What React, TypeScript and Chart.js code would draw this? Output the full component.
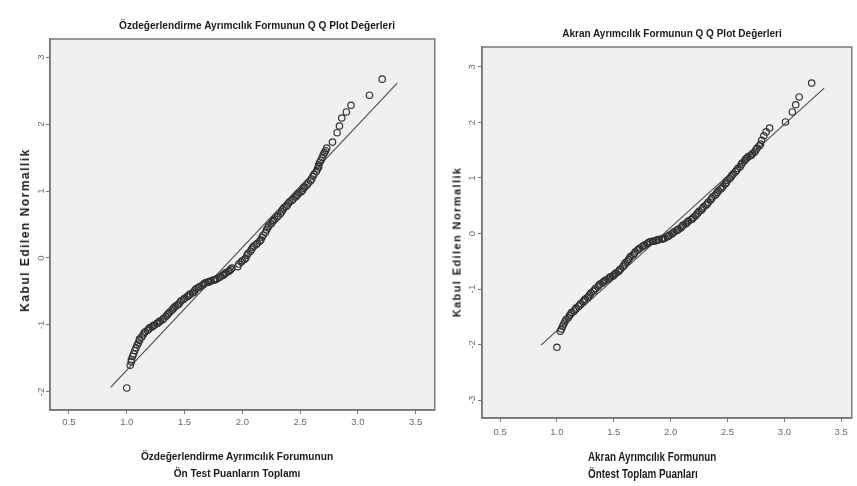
import React, { useEffect, useRef } from 'react';
import { Chart, registerables } from 'chart.js';
Chart.register(...registerables);

// ---------- data ----------
const leftObservedX = [
  1.00, 1.03, 1.04, 1.04, 1.05, 1.06, 1.07, 1.08, 1.09, 1.10,
  1.11, 1.11, 1.13, 1.14, 1.15, 1.16, 1.18, 1.19, 1.20, 1.22,
  1.23, 1.24, 1.26, 1.27, 1.28, 1.29, 1.31, 1.32, 1.34, 1.35,
  1.36, 1.37, 1.39, 1.40, 1.41, 1.42, 1.44, 1.45, 1.46, 1.47,
  1.49, 1.50, 1.52, 1.53, 1.54, 1.55, 1.57, 1.58, 1.59, 1.60,
  1.62, 1.63, 1.65, 1.66, 1.67, 1.68, 1.70, 1.71, 1.72, 1.73,
  1.75, 1.76, 1.77, 1.78, 1.80, 1.81, 1.83, 1.84, 1.85, 1.86,
  1.88, 1.89, 1.90, 1.91, 1.96, 1.97, 1.99, 2.00, 2.02, 2.03,
  2.04, 2.05, 2.07, 2.08, 2.09, 2.10, 2.12, 2.13, 2.15, 2.16,
  2.17, 2.18, 2.20, 2.21, 2.22, 2.23, 2.25, 2.26, 2.27, 2.28,
  2.30, 2.31, 2.33, 2.34, 2.35, 2.36, 2.38, 2.39, 2.40, 2.41,
  2.43, 2.44, 2.46, 2.47, 2.48, 2.49, 2.51, 2.52, 2.53, 2.54,
  2.56, 2.57, 2.59, 2.60, 2.61, 2.62, 2.64, 2.65, 2.66, 2.66,
  2.67, 2.68, 2.69, 2.70, 2.71, 2.72, 2.73, 2.78, 2.82, 2.84,
  2.86, 2.90, 2.94, 3.10, 3.21,
];
const leftExpectedNormal = [
  -1.94, -1.60, -1.55, -1.52, -1.47, -1.43, -1.38, -1.34, -1.30, -1.27,
  -1.23, -1.21, -1.18, -1.15, -1.12, -1.10, -1.08, -1.06, -1.04, -1.03,
  -1.01, -1.00, -0.98, -0.97, -0.95, -0.94, -0.92, -0.90, -0.87, -0.85,
  -0.83, -0.81, -0.78, -0.76, -0.74, -0.72, -0.70, -0.69, -0.66, -0.64,
  -0.62, -0.60, -0.58, -0.57, -0.55, -0.54, -0.52, -0.51, -0.48, -0.46,
  -0.44, -0.43, -0.41, -0.40, -0.38, -0.37, -0.36, -0.36, -0.35, -0.34,
  -0.33, -0.33, -0.32, -0.31, -0.29, -0.28, -0.26, -0.25, -0.23, -0.22,
  -0.20, -0.19, -0.17, -0.15, -0.13, -0.09, -0.06, -0.04, -0.02, 0.00,
  0.04, 0.07, 0.10, 0.13, 0.16, 0.18, 0.20, 0.22, 0.25, 0.27,
  0.31, 0.34, 0.38, 0.42, 0.45, 0.48, 0.51, 0.54, 0.56, 0.58,
  0.61, 0.63, 0.66, 0.69, 0.72, 0.75, 0.77, 0.79, 0.82, 0.84,
  0.86, 0.88, 0.91, 0.93, 0.95, 0.97, 0.99, 1.01, 1.04, 1.06,
  1.09, 1.12, 1.15, 1.18, 1.22, 1.25, 1.29, 1.33, 1.36, 1.39,
  1.43, 1.46, 1.50, 1.54, 1.57, 1.60, 1.64, 1.73, 1.87, 1.97,
  2.09, 2.18, 2.28, 2.43, 2.67,
];
const leftLineX = [0.86, 3.34];
const leftLineY = [-1.93, 2.61];

const rightObservedX = [
  1.00, 1.03, 1.04, 1.05, 1.06, 1.07, 1.08, 1.10, 1.11, 1.12,
  1.13, 1.15, 1.16, 1.17, 1.19, 1.20, 1.21, 1.23, 1.24, 1.25,
  1.27, 1.28, 1.29, 1.30, 1.32, 1.33, 1.34, 1.36, 1.37, 1.38,
  1.40, 1.41, 1.42, 1.43, 1.45, 1.46, 1.47, 1.49, 1.50, 1.51,
  1.52, 1.54, 1.55, 1.56, 1.58, 1.59, 1.60, 1.62, 1.63, 1.64,
  1.65, 1.67, 1.68, 1.69, 1.71, 1.72, 1.73, 1.75, 1.76, 1.77,
  1.79, 1.80, 1.81, 1.82, 1.84, 1.85, 1.87, 1.88, 1.89, 1.90,
  1.92, 1.93, 1.94, 1.95, 1.97, 1.98, 1.99, 2.01, 2.02, 2.03,
  2.05, 2.06, 2.07, 2.09, 2.10, 2.11, 2.13, 2.14, 2.15, 2.16,
  2.18, 2.19, 2.20, 2.22, 2.23, 2.24, 2.25, 2.27, 2.28, 2.29,
  2.31, 2.32, 2.33, 2.35, 2.36, 2.37, 2.39, 2.40, 2.41, 2.42,
  2.44, 2.45, 2.46, 2.48, 2.49, 2.50, 2.52, 2.53, 2.54, 2.55,
  2.57, 2.58, 2.59, 2.61, 2.62, 2.63, 2.65, 2.66, 2.67, 2.68,
  2.70, 2.71, 2.72, 2.74, 2.75, 2.76, 2.78, 2.79, 2.80, 2.82,
  2.84, 2.87, 3.01, 3.07, 3.10, 3.13, 3.24,
];
const rightExpectedNormal = [
  -2.05, -1.76, -1.72, -1.67, -1.63, -1.59, -1.55, -1.52, -1.48, -1.45,
  -1.42, -1.40, -1.37, -1.34, -1.31, -1.29, -1.26, -1.23, -1.20, -1.18,
  -1.15, -1.13, -1.10, -1.07, -1.04, -1.02, -0.99, -0.96, -0.93, -0.91,
  -0.89, -0.87, -0.85, -0.84, -0.82, -0.80, -0.78, -0.77, -0.75, -0.73,
  -0.71, -0.69, -0.66, -0.64, -0.60, -0.57, -0.53, -0.50, -0.47, -0.44,
  -0.41, -0.39, -0.36, -0.33, -0.30, -0.28, -0.26, -0.24, -0.22, -0.21,
  -0.19, -0.17, -0.16, -0.15, -0.14, -0.14, -0.13, -0.12, -0.11, -0.11,
  -0.10, -0.10, -0.09, -0.08, -0.06, -0.05, -0.03, -0.01, 0.01, 0.03,
  0.05, 0.06, 0.08, 0.10, 0.13, 0.15, 0.17, 0.19, 0.21, 0.23,
  0.25, 0.26, 0.29, 0.32, 0.35, 0.37, 0.40, 0.42, 0.45, 0.48,
  0.51, 0.53, 0.56, 0.60, 0.63, 0.66, 0.69, 0.71, 0.74, 0.77,
  0.80, 0.82, 0.85, 0.89, 0.92, 0.96, 0.99, 1.02, 1.05, 1.07,
  1.11, 1.14, 1.17, 1.20, 1.24, 1.27, 1.31, 1.34, 1.36, 1.38,
  1.40, 1.41, 1.44, 1.47, 1.51, 1.54, 1.58, 1.61, 1.68, 1.76,
  1.83, 1.90, 2.01, 2.19, 2.32, 2.46, 2.71,
];
const rightLineX = [0.86, 3.35];
const rightLineY = [-2.01, 2.62];

const xTickValues = [0.5, 1.0, 1.5, 2.0, 2.5, 3.0, 3.5];
const leftYTickValues = [-2, -1, 0, 1, 2, 3];
const rightYTickValues = [-3, -2, -1, 0, 1, 2, 3];

const leftTitle = 'Özdeğerlendirme Ayrımcılık Formunun Q Q Plot Değerleri';
const rightTitle = 'Akran Ayrımcılık Formunun Q Q Plot Değerleri';
const yAxisTitle = 'Kabul Edilen Normallik';
const leftXTitle = ['Özdeğerlendirme Ayrımcılık Forumunun', 'Ön Test Puanların Toplamı'];
const rightXTitle = ['Akran Ayrımcılık Formunun', 'Öntest Toplam Puanları'];

// ---------- styling ----------
const SANS = "'Liberation Sans', Arial, sans-serif";

const framePlugin = {
  id: 'plotFrame',
  beforeDraw(chart: any) {
    const { ctx, chartArea: a } = chart;
    ctx.save();
    ctx.fillStyle = '#f0f0f0';
    ctx.fillRect(a.left, a.top, a.right - a.left, a.bottom - a.top);
    ctx.restore();
  },
  afterDraw(chart: any) {
    const { ctx, chartArea: a } = chart;
    ctx.save();
    ctx.strokeStyle = '#7a7a7a';
    ctx.lineWidth = 1.5;
    ctx.strokeRect(a.left, a.top, a.right - a.left, a.bottom - a.top);
    ctx.restore();
  },
};

type PanelProps = {
  obsX: number[];
  expY: number[];
  lineX: number[];
  lineY: number[];
  yTicks: number[];
  xMin: number; xMax: number; yMin: number; yMax: number;
  width: number; height: number;
  padTop: number; padRight: number;
  yAxisWidth: number; xAxisHeight: number;
  xTickPad: number; yTickPad: number;
  left: number;
};

function QQPanel(p: PanelProps) {
  const ref = useRef<HTMLCanvasElement>(null);
  useEffect(() => {
    if (!ref.current) return;
    const tickFont = { family: SANS, size: 9.5 };
    const chart = new Chart(ref.current, {
      type: 'scatter',
      data: {
        datasets: [
          {
            label: 'Gözlenen',
            data: p.obsX.map((x, i) => ({ x, y: p.expY[i] })),
            pointStyle: 'circle',
            pointRadius: 3.2,
            pointBorderWidth: 1.2,
            borderColor: '#333',
            backgroundColor: 'rgba(0,0,0,0)',
            order: 1,
          },
          {
            label: 'Doğru',
            type: 'line',
            data: p.lineX.map((x, i) => ({ x, y: p.lineY[i] })),
            borderColor: '#4a4a4a',
            borderWidth: 1.1,
            pointRadius: 0,
            fill: false,
            order: 2,
          } as any,
        ],
      },
      options: {
        responsive: false,
        animation: false,
        devicePixelRatio: 1,
        layout: { padding: { top: p.padTop, right: p.padRight, left: 0, bottom: 0 } },
        plugins: { legend: { display: false }, tooltip: { enabled: false }, title: { display: false } },
        scales: {
          x: {
            type: 'linear',
            min: p.xMin,
            max: p.xMax,
            afterBuildTicks: (s: any) => { s.ticks = xTickValues.map((v) => ({ value: v })); },
            afterFit: (s: any) => { s.height = p.xAxisHeight; },
            ticks: {
              callback: (v: any) => Number(v).toFixed(1),
              font: tickFont,
              color: '#6a6a6a',
              padding: p.xTickPad,
              maxRotation: 0,
              minRotation: 0,
            },
            grid: { display: true, drawOnChartArea: false, drawTicks: true, tickLength: 4, color: '#777' },
            border: { display: true, color: '#6e6e6e', width: 1.5 },
          },
          y: {
            type: 'linear',
            min: p.yMin,
            max: p.yMax,
            afterBuildTicks: (s: any) => { s.ticks = p.yTicks.map((v) => ({ value: v })); },
            afterFit: (s: any) => { s.width = p.yAxisWidth; },
            ticks: {
              callback: (v: any) => String(v),
              font: tickFont,
              color: '#6a6a6a',
              padding: p.yTickPad,
              minRotation: 90,
              maxRotation: 90,
              crossAlign: 'center',
            },
            grid: { display: true, drawOnChartArea: false, drawTicks: true, tickLength: 4, color: '#777' },
            border: { display: true, color: '#6e6e6e', width: 1.5 },
          },
        },
      } as any,
      plugins: [framePlugin],
    });
    return () => chart.destroy();
  }, []);
  return (
    <canvas
      ref={ref}
      width={p.width}
      height={p.height}
      style={{ position: 'absolute', left: p.left, top: 0, width: p.width, height: p.height }}
    />
  );
}

const textBase: React.CSSProperties = {
  position: 'absolute',
  whiteSpace: 'nowrap',
  color: '#1a1a1a',
};

export default function App() {
  return (
    <div style={{ position: 'fixed', left: 0, top: 0, width: 857, height: 486, background: '#fff', overflow: 'hidden' }}>
      <QQPanel
        obsX={leftObservedX} expY={leftExpectedNormal} lineX={leftLineX} lineY={leftLineY}
        yTicks={leftYTickValues}
        xMin={0.336} xMax={3.665} yMin={-2.269} yMax={3.269}
        width={440} height={450} padTop={39} padRight={5}
        yAxisWidth={50} xAxisHeight={40} xTickPad={3} yTickPad={0}
        left={0}
      />
      <QQPanel
        obsX={rightObservedX} expY={rightExpectedNormal} lineX={rightLineX} lineY={rightLineY}
        yTicks={rightYTickValues}
        xMin={0.341} xMax={3.593} yMin={-3.324} yMax={3.36}
        width={427} height={450} padTop={47} padRight={0}
        yAxisWidth={52} xAxisHeight={32} xTickPad={5} yTickPad={1}
        left={430}
      />
      {/* titles */}
      <div style={{ ...textBase, left: 257, top: 19, font: `bold 11px ${SANS}`, lineHeight: '13px', transform: 'translateX(-50%) scaleX(0.92)' }}>{leftTitle}</div>
      <div style={{ ...textBase, left: 672, top: 27, font: `bold 11px ${SANS}`, lineHeight: '13px', transform: 'translateX(-50%) scaleX(0.91)' }}>{rightTitle}</div>
      {/* y axis titles */}
      <div style={{ ...textBase, left: 25, top: 230, font: `bold 12px ${SANS}`, lineHeight: '14px', letterSpacing: '1.5px', transform: 'translate(-50%, -50%) rotate(-90deg)' }}>{yAxisTitle}</div>
      <div style={{ ...textBase, left: 457, top: 242, font: `bold 11px ${SANS}`, lineHeight: '13px', letterSpacing: '1.4px', transform: 'translate(-50%, -50%) rotate(-90deg)' }}>{yAxisTitle}</div>
      {/* x axis titles */}
      <div style={{ ...textBase, left: 237, top: 448, font: `bold 11px ${SANS}`, lineHeight: '17px', textAlign: 'center', transform: 'translateX(-50%) scaleX(0.92)' }}>
        {leftXTitle[0]}<br />{leftXTitle[1]}
      </div>
      <div style={{ ...textBase, left: 588, top: 449, font: `bold 12px ${SANS}`, lineHeight: '17px', textAlign: 'left', transform: 'scaleX(0.82)', transformOrigin: 'left center' }}>
        {rightXTitle[0]}<br />{rightXTitle[1]}
      </div>
    </div>
  );
}
